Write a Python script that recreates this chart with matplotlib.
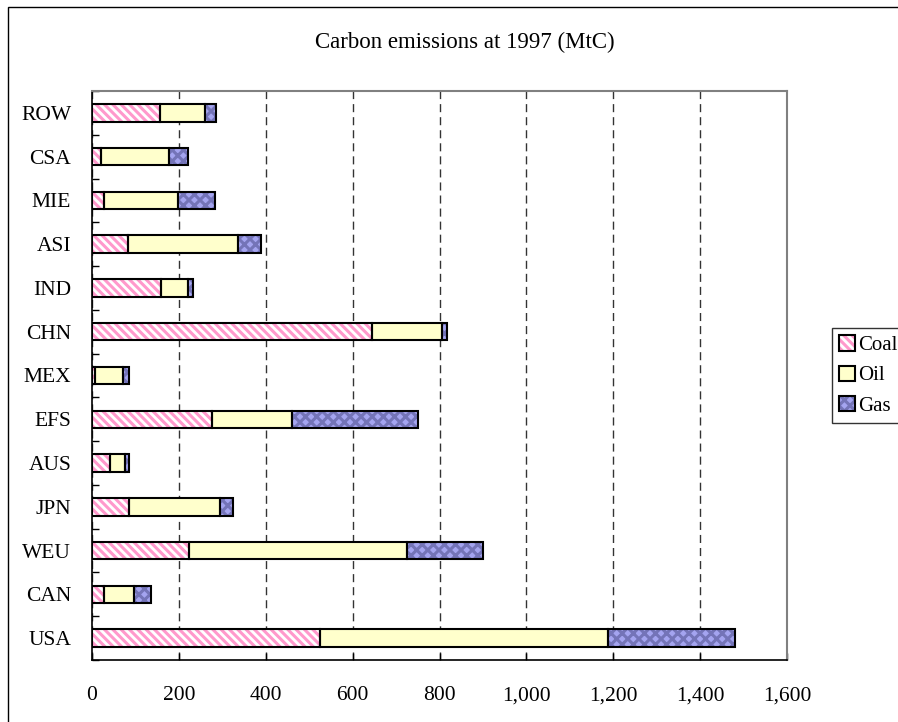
import matplotlib.pyplot as plt
from matplotlib.patches import Rectangle, Patch
import numpy as np

plt.rcParams['font.family'] = ['Liberation Serif', 'DejaVu Serif']
plt.rcParams['hatch.linewidth'] = 2.2

# regions, bottom to top as drawn
regions = ['USA', 'CAN', 'WEU', 'JPN', 'AUS', 'EFS', 'MEX',
           'CHN', 'IND', 'ASI', 'MIE', 'CSA', 'ROW']
coal = [526, 27, 223, 86, 42, 277, 6, 645, 158, 83, 27, 20, 157]
oil = [661, 69, 503, 209, 34, 184, 65, 161, 64, 252, 170, 158, 102]
gas = [294, 39, 173, 30, 10, 289, 15, 12, 10, 54, 86, 42, 26]
xticks = [0, 200, 400, 600, 800, 1000, 1200, 1400, 1600]

W, H = 898, 722
fig = plt.figure(figsize=(W / 100, H / 100), dpi=100)
ax = fig.add_axes([92 / W, (H - 660) / H, (787 - 92) / W, (660 - 91) / H])

y = np.arange(len(regions))
coal = np.array(coal)
oil = np.array(oil)
gas = np.array(gas)
h = 0.4
coal_hatch = '\\\\\\\\'
gas_hatch = 'xxx'
gas_face = '#a4a4f0'
gas_dots = '#7474b8'

# coal: pink stripes on white, black outline drawn separately
ax.barh(y, coal, height=h, color='white', edgecolor='#ff99cc', hatch=coal_hatch,
        linewidth=0, zorder=3)
ax.barh(y, coal, height=h, fill=False, edgecolor='black', linewidth=1.5, zorder=4)
ax.barh(y, oil, left=coal, height=h, color='#ffffcc', edgecolor='black',
        linewidth=1.5, zorder=3)
ax.barh(y, gas, left=coal + oil, height=h, color=gas_face, edgecolor=gas_dots,
        hatch=gas_hatch, linewidth=0, zorder=3)
ax.barh(y, gas, left=coal + oil, height=h, fill=False, edgecolor='black',
        linewidth=1.5, zorder=4)

ax.set_xlim(0, 1600)
ax.set_ylim(-0.5, len(regions) - 0.5)
ax.set_xticks(xticks)
ax.set_xticklabels([f'{v:,}' for v in xticks], fontsize=15.5)
ax.set_yticks(y)
ax.set_yticklabels(regions, fontsize=15.5)
ax.set_yticks(np.arange(-0.5, len(regions), 1), minor=True)
ax.tick_params(axis='y', which='major', length=0, pad=15)
ax.tick_params(axis='y', which='minor', direction='in', length=5, width=1)
ax.tick_params(axis='x', which='major', direction='in', length=5, width=1, pad=19)

ax.grid(axis='x', color='#333333', linestyle=(0, (5.8, 3.6)), linewidth=1)
ax.set_axisbelow(True)
for s in ['top', 'right']:
    ax.spines[s].set_color('#808080')
    ax.spines[s].set_linewidth(1.5)
for s in ['left', 'bottom']:
    ax.spines[s].set_color('black')
    ax.spines[s].set_linewidth(1.2)

fig.text(465 / W, 1 - 42 / H, 'Carbon emissions at 1997 (MtC)', fontsize=16.5,
         ha='center', va='center')

outline = dict(fill=False, edgecolor='black', linewidth=1.5)
handles = [(Patch(facecolor='white', edgecolor='#ff99cc', hatch=coal_hatch,
                  linewidth=0), Patch(**outline)),
           (Patch(facecolor='#ffffcc', linewidth=0), Patch(**outline)),
           (Patch(facecolor=gas_face, edgecolor=gas_dots, hatch=gas_hatch,
                  linewidth=0), Patch(**outline))]
leg = fig.legend(handles, ['Coal', 'Oil', 'Gas'], loc='upper left',
                 bbox_to_anchor=(832 / W, 1 - 328 / H), fontsize=15,
                 frameon=True, fancybox=False, edgecolor='black',
                 handlelength=0.75, handleheight=0.75, handletextpad=0.15,
                 labelspacing=0.5, borderpad=0.35, borderaxespad=0)
leg.get_frame().set_linewidth(1)

# outer chart frame, cut off at right and bottom
fig.patches.append(Rectangle((8 / W, -0.1), 1.0, 1 - 7 / H + 0.1,
                             transform=fig.transFigure, fill=False,
                             edgecolor='black', linewidth=1))

fig.savefig('out.png', dpi=100)
